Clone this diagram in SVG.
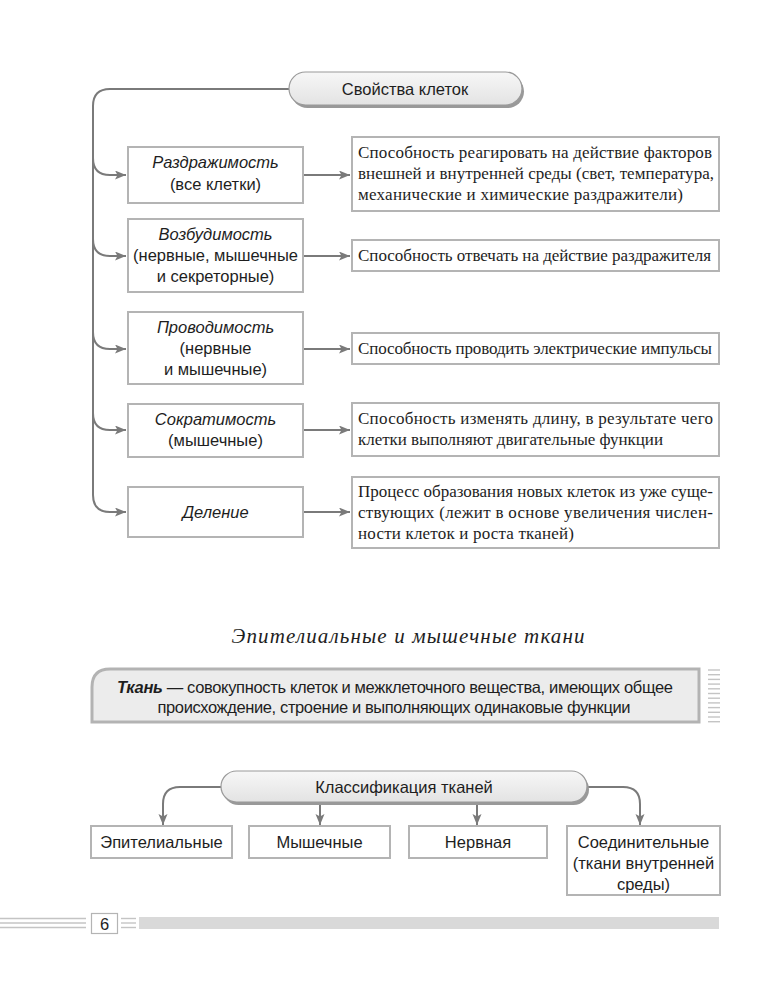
<svg xmlns="http://www.w3.org/2000/svg" width="768" height="1000" viewBox="0 0 768 1000">
<defs>
<marker id="arr" markerUnits="userSpaceOnUse" markerWidth="12" markerHeight="10" refX="11" refY="4.5" orient="auto">
<path d="M0,0 L11,4.5 L0,9 L2.5,4.5 Z" fill="#7a7a7a"/>
</marker>
<linearGradient id="pillg" x1="0" y1="0" x2="0" y2="1">
<stop offset="0" stop-color="#f7f7f7"/>
<stop offset="1" stop-color="#e3e3e3"/>
</linearGradient>
<style>
.box{fill:#ffffff;stroke:#b4b4b4;stroke-width:2}
.pill{fill:url(#pillg);stroke:#9a9a9a;stroke-width:1.2}
.shadow{fill:#999999}
.conn{fill:none;stroke:#7a7a7a;stroke-width:2}
.sans{font-family:"Liberation Sans",Arial,sans-serif;font-size:16.5px;fill:#1e1e1e}
.it{font-style:italic}
.serif{font-family:"Liberation Serif","Times New Roman",serif;font-size:17px;fill:#1e1e1e}
.stripe{stroke:#c4c4c4;stroke-width:1.4}
</style>
</defs>
<rect width="768" height="1000" fill="#ffffff"/>

<g id="connectors">
<path class="conn" d="M289,89 H110 Q93,89 93,106 V495 Q93,512 110,512 H126" marker-end="url(#arr)"/>
<path class="conn" d="M93,158 Q93,175 110,175 H126" marker-end="url(#arr)"/>
<path class="conn" d="M93,239 Q93,256 110,256 H126" marker-end="url(#arr)"/>
<path class="conn" d="M93,332 Q93,349 110,349 H126" marker-end="url(#arr)"/>
<path class="conn" d="M93,413 Q93,430 110,430 H126" marker-end="url(#arr)"/>
<path class="conn" d="M303,175 H350" marker-end="url(#arr)"/>
<path class="conn" d="M303,256 H350" marker-end="url(#arr)"/>
<path class="conn" d="M303,349 H350" marker-end="url(#arr)"/>
<path class="conn" d="M303,430 H350" marker-end="url(#arr)"/>
<path class="conn" d="M303,512 H350" marker-end="url(#arr)"/>
<path class="conn" d="M221,787 H180 Q163,787 163,804 V825" marker-end="url(#arr)"/>
<path class="conn" d="M587,787 H623 Q640,787 640,804 V825" marker-end="url(#arr)"/>
<path class="conn" d="M320,803 V825" marker-end="url(#arr)"/>
<path class="conn" d="M477,803 V825" marker-end="url(#arr)"/>
</g>

<g id="title-cells">
<rect class="shadow" x="291" y="75" width="233" height="33" rx="16.5"/>
<rect class="pill" x="289" y="72" width="233" height="33" rx="16.5"/>
<text class="sans" x="405" y="95" text-anchor="middle" font-size="17">Свойства клеток</text>
</g>

<g id="p1">
<rect class="box" x="128" y="147" width="175" height="56"/>
<text class="sans it" x="215.5" y="168" text-anchor="middle">Раздражимость</text>
<text class="sans" x="215.5" y="190" text-anchor="middle">(все клетки)</text>
</g>
<g id="d1">
<rect class="box" x="352" y="137" width="367" height="74"/>
<text class="serif" x="358" y="158" textLength="354">Способность реагировать на действие факторов</text>
<text class="serif" x="358" y="179" textLength="356">внешней и внутренней среды (свет, температура,</text>
<text class="serif" x="358" y="200" textLength="325">механические и химические раздражители)</text>
</g>

<g id="p2">
<rect class="box" x="128" y="219" width="175" height="73"/>
<text class="sans it" x="215.5" y="240" text-anchor="middle">Возбудимость</text>
<text class="sans" x="215.5" y="261" text-anchor="middle">(нервные, мышечные</text>
<text class="sans" x="215.5" y="282" text-anchor="middle">и секреторные)</text>
</g>
<g id="d2">
<rect class="box" x="352" y="240" width="367" height="31"/>
<text class="serif" x="358" y="261" textLength="353">Способность отвечать на действие раздражителя</text>
</g>

<g id="p3">
<rect class="box" x="128" y="312" width="175" height="72"/>
<text class="sans it" x="215.5" y="333" text-anchor="middle">Проводимость</text>
<text class="sans" x="215.5" y="354" text-anchor="middle">(нервные</text>
<text class="sans" x="215.5" y="375" text-anchor="middle">и мышечные)</text>
</g>
<g id="d3">
<rect class="box" x="352" y="333" width="367" height="31"/>
<text class="serif" x="358" y="354" textLength="354">Способность проводить электрические импульсы</text>
</g>

<g id="p4">
<rect class="box" x="128" y="404" width="175" height="53"/>
<text class="sans it" x="215.5" y="425" text-anchor="middle">Сократимость</text>
<text class="sans" x="215.5" y="446" text-anchor="middle">(мышечные)</text>
</g>
<g id="d4">
<rect class="box" x="352" y="403" width="367" height="53"/>
<text class="serif" x="358" y="424" textLength="355">Способность изменять длину, в результате чего</text>
<text class="serif" x="358" y="445" textLength="305">клетки выполняют двигательные функции</text>
</g>

<g id="p5">
<rect class="box" x="128" y="487" width="175" height="50"/>
<text class="sans it" x="215.5" y="518" text-anchor="middle">Деление</text>
</g>
<g id="d5">
<rect class="box" x="352" y="477" width="367" height="71"/>
<text class="serif" x="358" y="497" textLength="355">Процесс образования новых клеток из уже суще-</text>
<text class="serif" x="358" y="518" textLength="355">ствующих (лежит в основе увеличения числен-</text>
<text class="serif" x="358" y="539" textLength="216">ности клеток и роста тканей)</text>
</g>

<g id="section-title">
<text x="408" y="643" text-anchor="middle" font-family="'Liberation Serif','Times New Roman',serif" font-style="italic" font-size="21" fill="#1e1e1e" textLength="353">Эпителиальные и мышечные ткани</text>
</g>

<g id="definition">
<path d="M92,722 V687 Q92,669 110,669 H699 V722 Z" fill="#ececec" stroke="#b3b3b3" stroke-width="3"/>
<text class="sans" x="395" y="693" text-anchor="middle" textLength="556"><tspan font-weight="bold" font-style="italic">Ткань</tspan> — совокупность клеток и межклеточного вещества, имеющих общее</text>
<text class="sans" x="394" y="713" text-anchor="middle" textLength="473">происхождение, строение и выполняющих одинаковые функции</text>
<g>
<line class="stripe" x1="708" y1="670" x2="720" y2="670"/>
<line class="stripe" x1="708" y1="674.7" x2="720" y2="674.7"/>
<line class="stripe" x1="708" y1="679.4" x2="720" y2="679.4"/>
<line class="stripe" x1="708" y1="684.1" x2="720" y2="684.1"/>
<line class="stripe" x1="708" y1="688.8" x2="720" y2="688.8"/>
<line class="stripe" x1="708" y1="693.5" x2="720" y2="693.5"/>
<line class="stripe" x1="708" y1="698.2" x2="720" y2="698.2"/>
<line class="stripe" x1="708" y1="702.9" x2="720" y2="702.9"/>
<line class="stripe" x1="708" y1="707.6" x2="720" y2="707.6"/>
<line class="stripe" x1="708" y1="712.3" x2="720" y2="712.3"/>
<line class="stripe" x1="708" y1="717" x2="720" y2="717"/>
<line class="stripe" x1="708" y1="721.7" x2="720" y2="721.7"/>
</g>
</g>

<g id="classification">
<rect class="shadow" x="223" y="774" width="366" height="31" rx="15.5"/>
<rect class="pill" x="221" y="771" width="366" height="31" rx="15.5"/>
<text class="sans" x="404" y="793" text-anchor="middle">Классификация тканей</text>
</g>
<g id="c1">
<rect class="box" x="91" y="826" width="141" height="32"/>
<text class="sans" x="161.5" y="848" text-anchor="middle">Эпителиальные</text>
</g>
<g id="c2">
<rect class="box" x="249" y="826" width="141" height="32"/>
<text class="sans" x="319.5" y="848" text-anchor="middle">Мышечные</text>
</g>
<g id="c3">
<rect class="box" x="409" y="826" width="138" height="32"/>
<text class="sans" x="478" y="848" text-anchor="middle">Нервная</text>
</g>
<g id="c4">
<rect class="box" x="567" y="826" width="153" height="69"/>
<text class="sans" x="643.5" y="848" text-anchor="middle">Соединительные</text>
<text class="sans" x="643.5" y="869" text-anchor="middle">(ткани внутренней</text>
<text class="sans" x="643.5" y="890" text-anchor="middle">среды)</text>
</g>

<g id="footer">
<line class="stripe" x1="0" y1="918.5" x2="86" y2="918.5"/>
<line class="stripe" x1="0" y1="923" x2="86" y2="923"/>
<line class="stripe" x1="0" y1="927.5" x2="86" y2="927.5"/>
<rect x="91.5" y="913.5" width="26" height="20" fill="#ffffff" stroke="#b4b4b4" stroke-width="1.2"/>
<text class="sans" x="104.5" y="929.5" text-anchor="middle" font-size="17">6</text>
<line class="stripe" x1="121" y1="918.5" x2="136" y2="918.5"/>
<line class="stripe" x1="121" y1="923" x2="136" y2="923"/>
<line class="stripe" x1="121" y1="927.5" x2="136" y2="927.5"/>
<rect x="139" y="917" width="580" height="12" fill="#d9d9d9"/>
</g>
</svg>
